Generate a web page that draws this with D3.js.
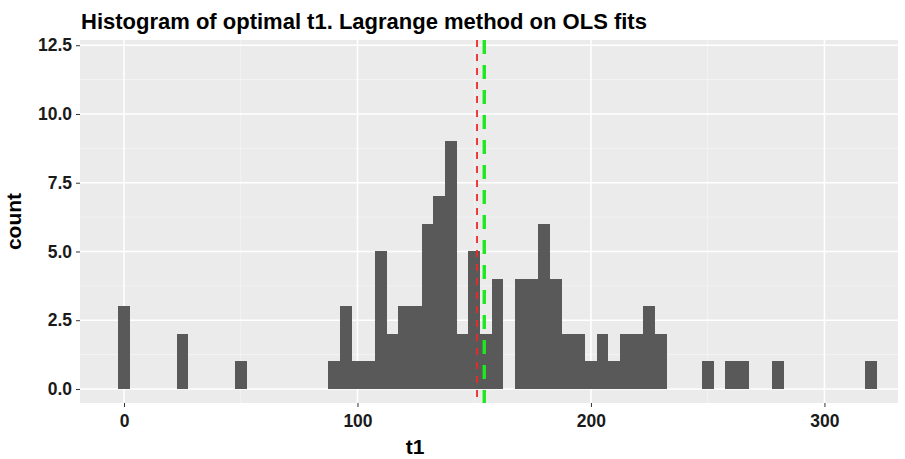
<!DOCTYPE html>
<html>
<head>
<meta charset="utf-8">
<script src="https://cdn.jsdelivr.net/npm/d3@7/dist/d3.min.js"></script>
<style>
  html, body { margin: 0; padding: 0; background: #ffffff; }
  svg { display: block; font-family: "Liberation Sans", Arial, Helvetica, sans-serif; }
</style>
</head>
<body>
<svg id="chart" width="905" height="459"></svg>
<script>
// Histogram bins of optimal t1 (binwidth 5, bins centred on multiples of 5); empty bins omitted
const binWidth = 5;
const binMids   = [0, 25, 50, 90, 95, 100, 105, 110, 115, 120, 125, 130, 135, 140, 145, 150, 155, 160,
                   170, 175, 180, 185, 190, 195, 200, 205, 210, 215, 220, 225, 230, 250, 260, 265, 280, 320];
const binCounts = [3, 2, 1, 1, 3, 1, 1, 5, 2, 3, 3, 6, 7, 9, 2, 5, 2, 4,
                   4, 4, 6, 4, 2, 2, 1, 2, 1, 2, 2, 3, 2, 1, 1, 1, 1, 1];

// Reference lines: median (red, dotted) and mean (green, dashed)
const medianT1 = 151.2;
const meanT1 = 154.3;

const xTicks = [0, 100, 200, 300];
const xMinor = [50, 150, 250];
const yTicks = [0, 2.5, 5, 7.5, 10, 12.5];
const yMinor = [1.25, 3.75, 6.25, 8.75, 11.25];

const titleText = "Histogram of optimal t1. Lagrange method on OLS fits";
const xTitle = "t1";
const yTitle = "count";

const panel = { left: 80, right: 898, top: 40, bottom: 403 };

const svg = d3.select("#chart");

const x = d3.scaleLinear().domain([-18.84, 331.5]).range([panel.left, panel.right]);
const y = d3.scaleLinear().domain([-0.51, 12.69]).range([panel.bottom, panel.top]);

// panel background
svg.append("rect")
  .attr("x", panel.left).attr("y", panel.top)
  .attr("width", panel.right - panel.left).attr("height", panel.bottom - panel.top)
  .attr("fill", "#EBEBEB");

// grid lines
const grid = svg.append("g");
grid.selectAll(".ymin").data(yMinor).join("line")
  .attr("x1", panel.left).attr("x2", panel.right)
  .attr("y1", d => y(d)).attr("y2", d => y(d))
  .attr("stroke", "#F5F5F5").attr("stroke-width", 0.8);
grid.selectAll(".xmin").data(xMinor).join("line")
  .attr("y1", panel.top).attr("y2", panel.bottom)
  .attr("x1", d => x(d)).attr("x2", d => x(d))
  .attr("stroke", "#F5F5F5").attr("stroke-width", 0.8);
grid.selectAll(".ymaj").data(yTicks).join("line")
  .attr("x1", panel.left).attr("x2", panel.right)
  .attr("y1", d => y(d)).attr("y2", d => y(d))
  .attr("stroke", "#FFFFFF").attr("stroke-width", 1.6);
grid.selectAll(".xmaj").data(xTicks).join("line")
  .attr("y1", panel.top).attr("y2", panel.bottom)
  .attr("x1", d => x(d)).attr("x2", d => x(d))
  .attr("stroke", "#FFFFFF").attr("stroke-width", 1.6);

// histogram bars
const bins = binMids.map((m, i) => ({ mid: m, count: binCounts[i] }));
svg.append("g").selectAll("rect").data(bins).join("rect")
  .attr("x", d => x(d.mid - binWidth / 2))
  .attr("width", d => x(d.mid + binWidth / 2) - x(d.mid - binWidth / 2))
  .attr("y", d => y(d.count))
  .attr("height", d => y(0) - y(d.count))
  .attr("fill", "#595959")
  .attr("shape-rendering", "crispEdges");

// median and mean lines
svg.append("line")
  .attr("x1", x(medianT1)).attr("x2", x(medianT1))
  .attr("y1", panel.top).attr("y2", panel.bottom)
  .attr("stroke", "#F02828").attr("stroke-width", 1.8)
  .attr("stroke-dasharray", "7,7");
svg.append("line")
  .attr("x1", x(meanT1)).attr("x2", x(meanT1))
  .attr("y1", panel.top).attr("y2", panel.bottom)
  .attr("stroke", "#1EE81E").attr("stroke-width", 3.4)
  .attr("stroke-dasharray", "14,11");

// axes
const xAxis = svg.append("g")
  .attr("transform", `translate(0,${panel.bottom})`)
  .call(d3.axisBottom(x).tickValues(xTicks).tickSize(4).tickPadding(8).tickFormat(d3.format("d")));
const yAxis = svg.append("g")
  .attr("transform", `translate(${panel.left},0)`)
  .call(d3.axisLeft(y).tickValues(yTicks).tickSize(4).tickPadding(4).tickFormat(d3.format(".1f")));

[xAxis, yAxis].forEach(a => {
  a.select(".domain").remove();
  a.selectAll(".tick line").attr("stroke", "#333333").attr("stroke-width", 1);
  a.selectAll(".tick text")
    .attr("fill", "#1a1a1a")
    .attr("font-size", 17.5)
    .attr("font-weight", "bold")
    .attr("font-family", "\"Liberation Sans\", Arial, sans-serif");
});

// titles
svg.append("text")
  .attr("x", 81).attr("y", 29)
  .attr("font-size", 22).attr("font-weight", "bold").attr("fill", "#000")
  .text(titleText);

svg.append("text")
  .attr("x", 415).attr("y", 454)
  .attr("text-anchor", "middle")
  .attr("font-size", 21).attr("font-weight", "bold").attr("fill", "#000")
  .text(xTitle);

svg.append("text")
  .attr("transform", `translate(21,${(panel.top + panel.bottom) / 2}) rotate(-90)`)
  .attr("text-anchor", "middle")
  .attr("font-size", 21).attr("font-weight", "bold").attr("fill", "#000")
  .text(yTitle);
</script>
</body>
</html>
